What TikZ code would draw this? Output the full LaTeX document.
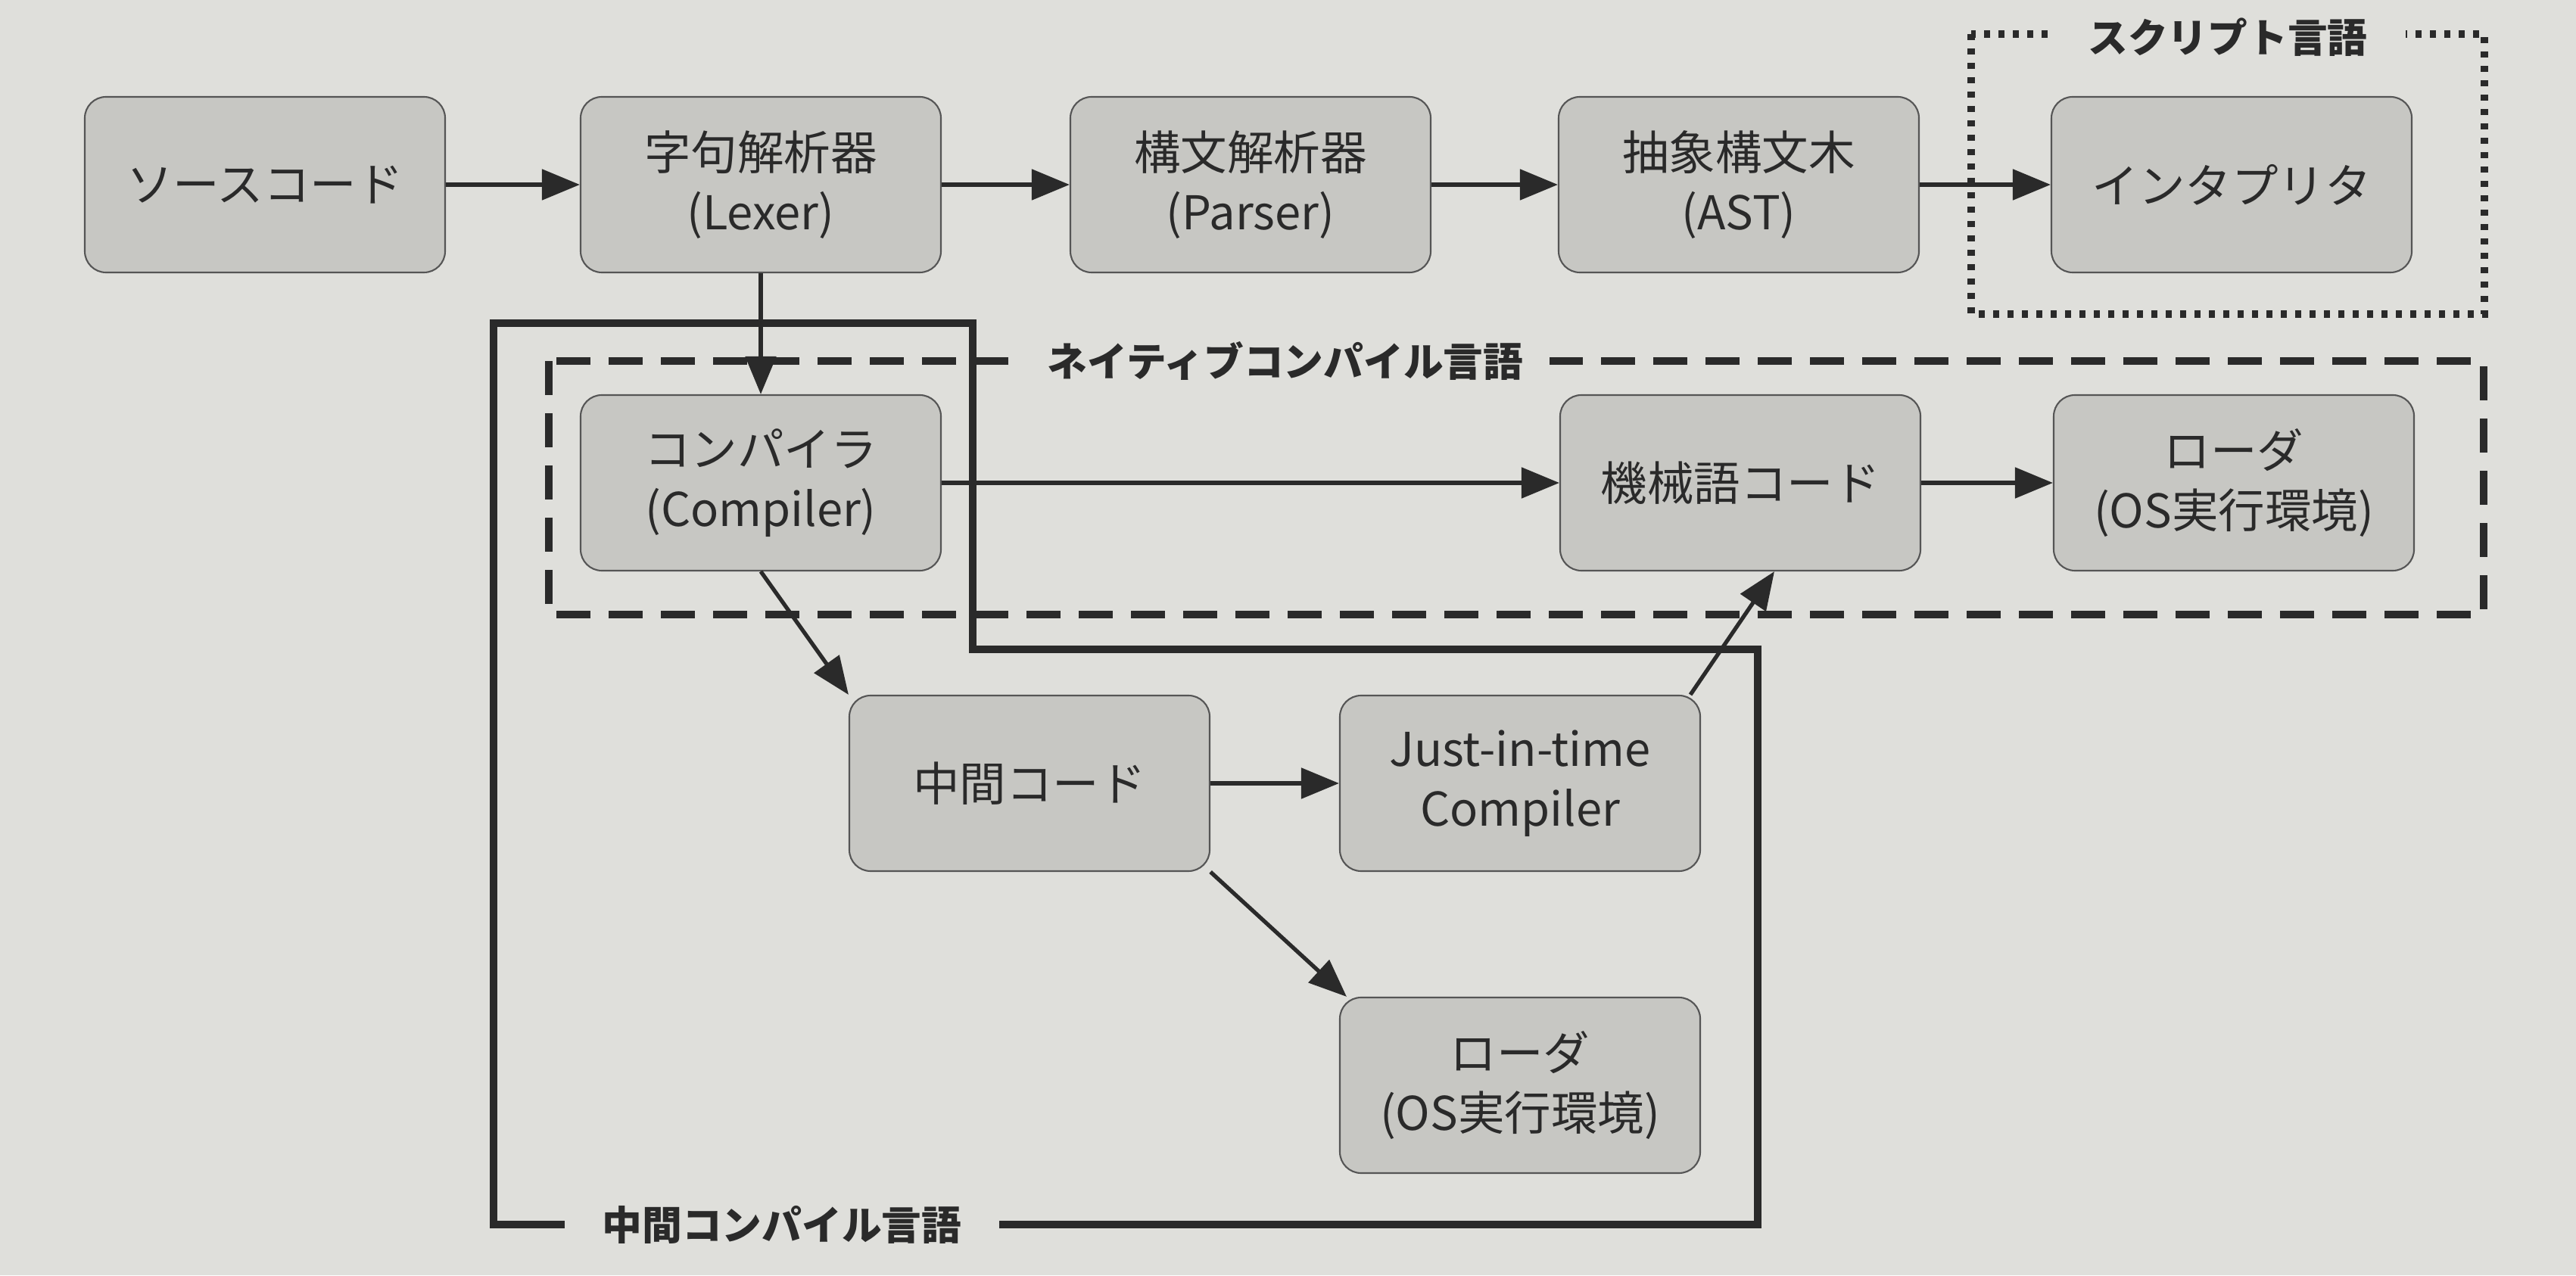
\documentclass[tikz,border=0pt]{standalone}
\usepackage{fontspec}
\setmainfont{Noto Sans CJK JP}
\usetikzlibrary{arrows.meta}

\definecolor{papier}{RGB}{223,223,219}
\definecolor{gris}{RGB}{199,199,195}
\definecolor{encre}{RGB}{42,42,42}

\begin{document}
\begin{tikzpicture}[
    boite/.style={draw=encre!80, line width=0.6pt, fill=gris, rounded corners=0.28cm,
        minimum width=4.76cm, minimum height=2.32cm, align=center,
        font=\fontsize{17.5}{22.5}\selectfont, text=encre},
    fleche/.style={encre, line width=1.5pt, -{Triangle[length=0.5cm, width=0.4cm]}},
    titre/.style={fill=papier, inner ysep=0.1cm, text=encre,
        font=\fontsize{15}{17}\selectfont\bfseries},
]

\fill[papier] (0,0) rectangle (34.03,16.85);
\useasboundingbox (0,0) rectangle (34.03,16.85);

%cadres des langages

\draw[encre, line width=0.1cm, line join=miter] (6.52,12.58) -- (12.85,12.58) -- (12.85,8.27)
    -- (23.22,8.27) -- (23.22,0.67) -- (6.52,0.67) -- cycle;
\draw[encre, line width=0.1cm, dash pattern=on 0.45cm off 0.24cm] (7.25,12.08) rectangle (32.81,8.73);
\draw[encre, line width=0.1cm, dash pattern=on 0.08cm off 0.11cm] (26.04,16.40) rectangle (32.82,12.70);
\node[titre, inner xsep=0.5cm] (tscript) at (29.43,16.36) {スクリプト言語};
\node[titre, inner xsep=0.35cm] (tnatif) at (16.98,12.08) {ネイティブコンパイル言語};
\node[titre, inner xsep=0.5cm] (tinter) at (10.33,0.67) {中間コンパイル言語};

%boîtes

\node[boite] (src) at (3.50,14.41) {ソースコード};
\node[boite] (lex) at (10.05,14.41) {字句解析器\\(Lexer)};
\node[boite] (par) at (16.52,14.41) {構文解析器\\(Parser)};
\node[boite] (ast) at (22.97,14.41) {抽象構文木\\(AST)};
\node[boite] (interp) at (29.48,14.41) {インタプリタ};

\node[boite] (comp) at (10.05,10.47) {コンパイラ\\(Compiler)};
\node[boite] (mach) at (22.99,10.47) {機械語コード};
\node[boite] (ld1) at (29.51,10.47) {ローダ\\(OS実行環境)};

\node[boite] (mid) at (13.60,6.50) {中間コード};
\node[boite] (jit) at (20.08,6.50) {Just-in-time\\Compiler};
\node[boite] (ld2) at (20.08,2.51) {ローダ\\(OS実行環境)};

%flèches

\draw[fleche] (src) -- (lex);
\draw[fleche] (lex) -- (par);
\draw[fleche] (par) -- (ast);
\draw[fleche] (ast) -- (interp);
\draw[fleche] (lex) -- (comp);
\draw[fleche] (comp) -- (mach);
\draw[fleche] (mach) -- (ld1);
\draw[fleche] (comp.south) -- (mid.north west);
\draw[fleche] (mid) -- (jit);
\draw[fleche] (mid.south east) -- ([xshift=0.1cm]ld2.north west);
\draw[fleche] ([xshift=-0.14cm]jit.north east) -- ([xshift=0.45cm]mach.south);
\end{tikzpicture}
\end{document}
